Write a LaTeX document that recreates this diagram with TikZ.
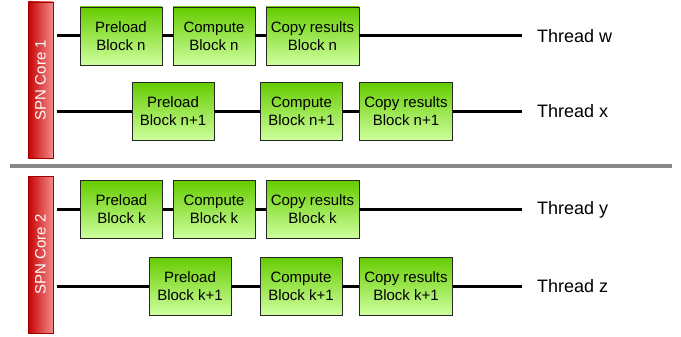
\documentclass[tikz,border=0pt]{standalone}
\usepackage{fontspec}
\setmainfont{Liberation Sans}
\usepackage{tikz}
\definecolor{boxtop}{RGB}{102,204,0}
\definecolor{boxbot}{RGB}{206,255,158}
\definecolor{coreleft}{RGB}{200,0,0}
\definecolor{coreright}{RGB}{242,140,140}
\definecolor{sepgray}{RGB}{136,136,136}
\tikzset{
	block/.style={draw=black!85, line width=0.8pt, top color=boxtop, bottom color=boxbot,
		minimum width=82pt, minimum height=58pt, inner sep=0pt, align=center,
		font=\fontsize{15}{18}\selectfont},
	copyblock/.style={block, minimum width=93pt},
	corebar/.style={draw=coreleft!80!black, line width=0.5pt, left color=coreleft, right color=coreright,
		minimum height=25pt, inner sep=0pt, text=white, rotate=90,
		font=\fontsize{15}{17}\selectfont},
	thread/.style={line width=3pt, black},
	tlabel/.style={anchor=west, inner sep=0pt, font=\fontsize{18}{20}\selectfont}
}

\begin{document}
\begin{tikzpicture}[x=1pt, y=-1pt]
			%%%%% START %%%%%
			
			\useasboundingbox (0, 0) rectangle (681, 337);
			
			\node[corebar, minimum width=156pt] (core1) at (40.5, 80) {SPN Core 1};
			\node[corebar, minimum width=157pt] (core2) at (40.5, 254.5) {SPN Core 2};
			
			\draw[line width=3.5pt, color=sepgray] (10, 166) -- (672, 166);
			
			% thread w
			\coordinate (w0) at (57, 36);
			\coordinate (w1) at (522, 36);
			\node[block] (pw) at (121, 36) {Preload\\Block n};
			\node[block] (cw) at (214, 36) {Compute\\Block n};
			\node[copyblock] (rw) at (312.5, 36) {Copy results\\Block n};
			\node[tlabel] (lw) at (537, 36) {Thread w};
			
			% thread x
			\coordinate (x0) at (57, 111.5);
			\coordinate (x1) at (522, 111.5);
			\node[block] (px) at (173, 111.5) {Preload\\Block n+1};
			\node[block] (cx) at (301.5, 111.5) {Compute\\Block n+1};
			\node[copyblock] (rx) at (406, 111.5) {Copy results\\Block n+1};
			\node[tlabel] (lx) at (537, 111.5) {Thread x};
			
			% thread y
			\coordinate (y0) at (57, 209.5);
			\coordinate (y1) at (522, 209.5);
			\node[block] (py) at (121.5, 209.5) {Preload\\Block k};
			\node[block] (cy) at (214, 209.5) {Compute\\Block k};
			\node[copyblock] (ry) at (312.5, 209.5) {Copy results\\Block k};
			\node[tlabel] (ly) at (537, 209.5) {Thread y};
			
			% thread z
			\coordinate (z0) at (57, 286);
			\coordinate (z1) at (522, 286);
			\node[block] (pz) at (190, 286) {Preload\\Block k+1};
			\node[block] (cz) at (301, 286) {Compute\\Block k+1};
			\node[copyblock] (rz) at (406, 286) {Copy results\\Block k+1};
			\node[tlabel] (lz) at (537, 286) {Thread z};
			
			\draw[thread] (w0) -- (pw) (pw) -- (cw) (cw) -- (rw) (rw) -- (w1);
			\draw[thread] (x0) -- (px) (px) -- (cx) (cx) -- (rx) (rx) -- (x1);
			\draw[thread] (y0) -- (py) (py) -- (cy) (cy) -- (ry) (ry) -- (y1);
			\draw[thread] (z0) -- (pz) (pz) -- (cz) (cz) -- (rz) (rz) -- (z1);
			
			%%%%% END %%%%%
		\end{tikzpicture}
\end{document}
